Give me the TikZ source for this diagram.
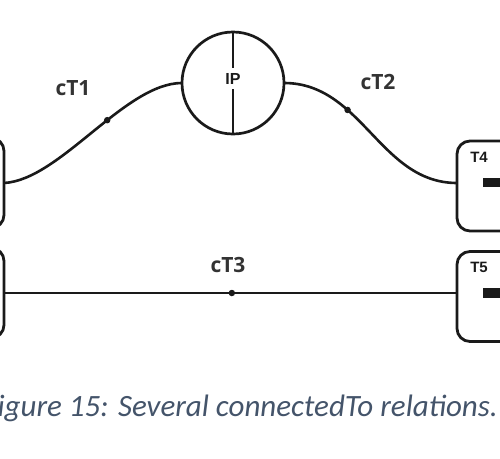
\documentclass[tikz,border=0pt]{standalone}
\usepackage{fontspec}
\setmainfont{Liberation Sans}
\newfontfamily\lblfont{Open Sans}
\newfontfamily\capfont{Carlito}
\definecolor{capcol}{HTML}{44546A}
\definecolor{ink}{HTML}{1A1A1A}
\definecolor{lblcol}{HTML}{333333}
\tikzset{
  tbox/.style={draw=ink, line width=2.8pt, rounded corners=13pt, minimum width=60pt, minimum height=90pt, inner sep=0pt, outer sep=0pt},
  ipc/.style={circle, draw=ink, line width=2.7pt, minimum size=102pt, inner sep=0pt, outer sep=0pt},
  lbl/.style={font=\lblfont\bfseries\fontsize{21}{21}\selectfont, text=lblcol, inner sep=0pt},
  tlbl/.style={font=\bfseries\fontsize{15}{15}\selectfont, text=ink, inner sep=0pt},
  dotst/.style={circle, fill=ink, inner sep=0pt, minimum size=6.5pt},
  barst/.style={fill=ink, inner sep=0pt, minimum width=40pt, minimum height=9.5pt},
  conn/.style={draw=ink, line width=2.6pt}
}
\begin{document}
\begin{tikzpicture}[x=1pt,y=-1pt]
\useasboundingbox (0,0) rectangle (500,458);
\clip (0,0) rectangle (500,458);
% boxes
\node[tbox] (T1) at (-26,183) {};
\node[tbox] (T2) at (-26,293) {};
\node[tbox] (T4) at (487,186) {};
\node[tbox] (T5) at (487,296.5) {};
\node[barst] (b4) at (503,182.5) {};
\node[barst] (b5) at (503,293) {};
\node[tlbl] (t4) at (479,157) {T4};
\node[tlbl] (t5) at (479,267) {T5};
\coordinate (p4) at ([yshift=3pt]T4.west);
\coordinate (p5) at ([yshift=3.5pt]T5.west);
% IP circle
\node[ipc] (IP) at (233,83) {};
\node[font=\bfseries\fontsize{16}{16}\selectfont, text=ink, inner sep=0pt] (iptxt) at (233,79) {IP};
\coordinate (ipa) at (233,68);
\coordinate (ipb) at (233,89);
\draw[conn] (IP.north) -- (ipa);
\draw[conn] (ipb) -- (IP.south);
% connectors
\draw[conn] (T1.east) .. controls (60,180) and (125,83) .. (IP.west) node[dotst,pos=0.58] (d1) {};
\draw[conn] (IP.east) .. controls (362,83) and (380,183) .. (p4) node[dotst,pos=0.341] (d2) {};
\draw[conn] (T2.east) -- (p5) node[dotst,pos=0.503] (d3) {};
% labels
\node[lbl] (l1) at (73,88) {cT1};
\node[lbl] (l2) at (378,82) {cT2};
\node[lbl] (l3) at (228,265) {cT3};
% caption
\node[anchor=base east, font=\capfont\itshape\fontsize{31}{31}\selectfont, text=capcol, inner sep=0pt] (cap) at (498,416) {Figure 15: Several connectedTo relations.};
\end{tikzpicture}
\end{document}
